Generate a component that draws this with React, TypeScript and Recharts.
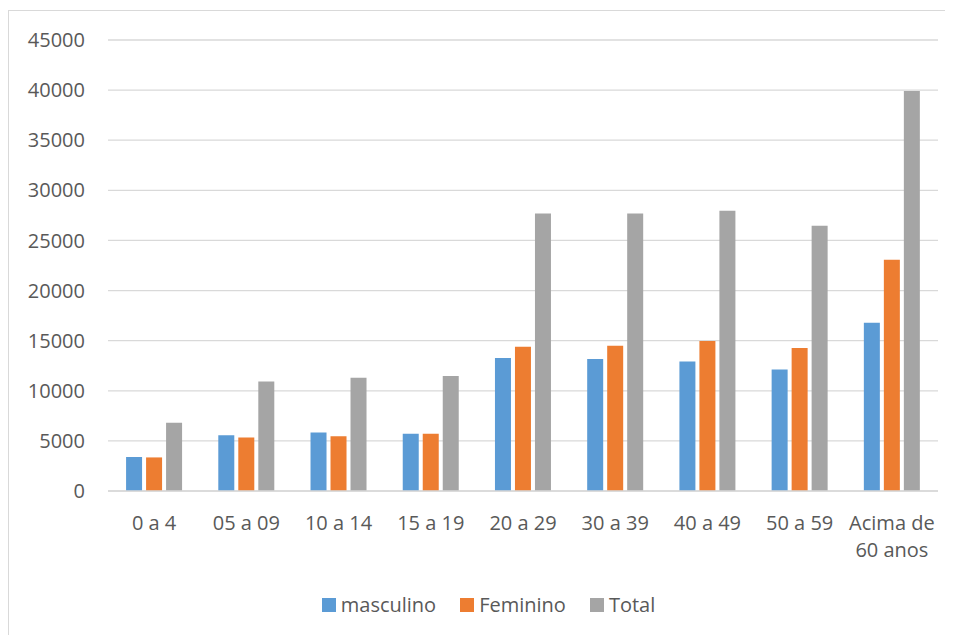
import React from 'react';
import { BarChart, Bar, XAxis, YAxis, CartesianGrid, Legend, Text } from 'recharts';

const categorias = ['0 a 4', '05 a 09', '10 a 14', '15 a 19', '20 a 29', '30 a 39', '40 a 49', '50 a 59', 'Acima de 60 anos'];
const masculino = [3400, 5570, 5830, 5700, 13270, 13170, 12930, 12130, 16800];
const feminino = [3350, 5330, 5470, 5700, 14400, 14500, 14970, 14270, 23070];
const total = [6800, 10930, 11300, 11470, 27700, 27700, 27970, 26470, 39900];
const yTicks = [0, 5000, 10000, 15000, 20000, 25000, 30000, 35000, 40000, 45000];

const series = [
  { key: 'masculino', color: '#5B9BD5' },
  { key: 'Feminino', color: '#ED7D31' },
  { key: 'Total', color: '#A5A5A5' },
];

const FONT = '"Open Sans", sans-serif';
const TEXT = '#595959';

const chartData = categorias.map((name, i) => ({
  name,
  masculino: masculino[i],
  Feminino: feminino[i],
  Total: total[i],
}));

const XTick = (props: any) => {
  const { x, y, payload } = props;
  return (
    <Text
      x={x}
      y={y}
      width={90}
      textAnchor="middle"
      verticalAnchor="start"
      lineHeight={27}
      fill={TEXT}
      style={{ fontFamily: FONT, fontSize: 20 }}
    >
      {payload.value}
    </Text>
  );
};

// fixed order, recharts 3 sorts legend items otherwise
const LegendContent = () => (
  <div style={{ display: 'flex', justifyContent: 'center', fontFamily: FONT, fontSize: 20, color: TEXT, paddingLeft: 30 }}>
    {series.map((s, i) => (
      <div key={s.key} style={{ display: 'flex', alignItems: 'center', marginRight: i < series.length - 1 ? 24 : 0 }}>
        <span style={{ display: 'inline-block', width: 14, height: 14, background: s.color, marginRight: 5 }} />
        <span>{s.key}</span>
      </div>
    ))}
  </div>
);

export default function App() {
  return (
    <div style={{ position: 'relative', top: 2, width: 945, height: 626, borderLeft: '1px solid #d9d9d9', borderTop: '1px solid #d9d9d9', fontFamily: FONT }}>
      <BarChart
        width={944}
        height={625}
        data={chartData}
        margin={{ top: 29, right: 15, left: 0, bottom: 18 }}
        barCategoryGap="19.6%"
        barGap={4}
      >
        <CartesianGrid vertical={false} stroke="#d9d9d9" strokeWidth={1.3} />
        <XAxis
          dataKey="name"
          height={100}
          tickLine={false}
          axisLine={{ stroke: '#d9d9d9', strokeWidth: 1.3 }}
          tickSize={0}
          tickMargin={25}
          interval={0}
          tick={<XTick />}
        />
        <YAxis
          width={99}
          domain={[0, 45000]}
          ticks={yTicks}
          tickLine={false}
          axisLine={false}
          tickSize={0}
          tickMargin={23}
          tick={{ fill: TEXT, fontSize: 20, fontFamily: FONT }}
        />
        <Legend verticalAlign="bottom" content={<LegendContent />} />
        {series.map((s) => (
          <Bar key={s.key} dataKey={s.key} fill={s.color} isAnimationActive={false} />
        ))}
      </BarChart>
    </div>
  );
}
